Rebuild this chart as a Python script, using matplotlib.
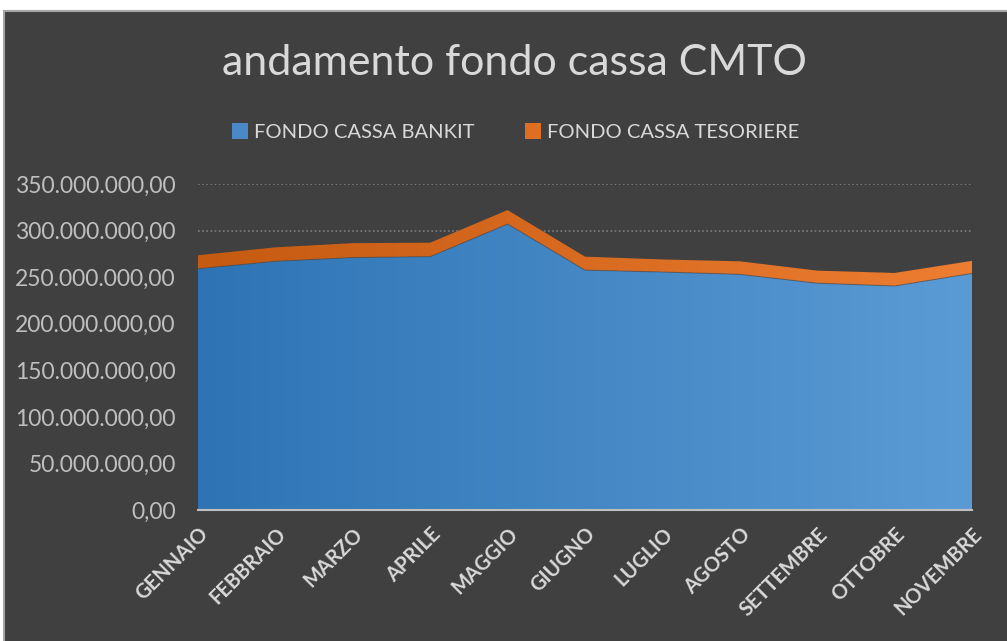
import numpy as np
import matplotlib as mpl
import matplotlib.pyplot as plt
from matplotlib.colors import LinearSegmentedColormap
from matplotlib.patches import Rectangle, Patch

# data (values in euro)
mesi = ['GENNAIO', 'FEBBRAIO', 'MARZO', 'APRILE', 'MAGGIO', 'GIUGNO',
        'LUGLIO', 'AGOSTO', 'SETTEMBRE', 'OTTOBRE', 'NOVEMBRE']
fondo_bankit = np.array([259.0, 267.0, 271.0, 272.0, 307.0, 257.5,
                         255.5, 253.0, 243.5, 240.5, 254.0]) * 1e6
fondo_tesoriere = np.array([14.5, 15.0, 15.5, 15.0, 15.0, 14.5,
                            13.5, 14.0, 13.5, 14.0, 13.5]) * 1e6
y_ticks = np.arange(0, 350e6 + 1, 50e6)

plt.rcParams['font.family'] = ['Lato', 'DejaVu Sans']

bg = '#404040'
txt = '#D9D9D9'

fig = plt.figure(figsize=(10.07, 6.41), dpi=100, facecolor='white')
# dark chart area with a thin grey frame, white margin top/left as in the screenshot
fig.patches.append(Rectangle((4 / 1007, -0.01), 1.0, 1 - 11 / 641 + 0.01,
                             transform=fig.transFigure, facecolor=bg,
                             edgecolor='#A6A6A6', linewidth=1.5, zorder=-10))

ax = fig.add_axes([198 / 1007, 1 - 510 / 641, (972 - 198) / 1007, (510 - 184) / 641])
ax.set_facecolor(bg)
ax.patch.set_alpha(0)

x = np.arange(len(mesi))
totale = fondo_bankit + fondo_tesoriere

# areas drawn first, then filled with a horizontal gradient clipped to their shape
poly_b = ax.fill_between(x, 0, fondo_bankit, facecolor='none', edgecolor='none')
poly_t = ax.fill_between(x, fondo_bankit, totale, facecolor='none', edgecolor='none')

grad = np.linspace(0, 1, 256).reshape(1, -1)
cmap_b = LinearSegmentedColormap.from_list('b', ['#2E74B5', '#5B9BD5'])
cmap_t = LinearSegmentedColormap.from_list('t', ['#C55A11', '#ED7D31'])
for poly, cm in [(poly_b, cmap_b), (poly_t, cmap_t)]:
    im = ax.imshow(grad, cmap=cm, aspect='auto', extent=(x[0], x[-1], 0, 350e6),
                   origin='lower', zorder=2)
    im.set_clip_path(poly.get_paths()[0], transform=ax.transData)

ax.plot(x, fondo_bankit, color='#3A4A5A', linewidth=0.8, alpha=0.5, zorder=3)

ax.set_xlim(x[0], x[-1])
ax.set_ylim(0, 350e6)

ax.set_yticks(y_ticks)
ax.set_yticklabels([f'{v:,.2f}'.replace(',', 'X').replace('.', ',').replace('X', '.')
                    for v in y_ticks])
ax.set_xticks(x)
ax.set_xticklabels(mesi, rotation=45, ha='right', rotation_mode='anchor',
                   fontweight='bold', fontsize=14.5, color=txt)
ax.tick_params(axis='y', length=0, labelsize=16.5, labelcolor='#BFBFBF', pad=16)
ax.tick_params(axis='x', length=0, pad=10)

ax.grid(axis='y', color='#808080', linestyle=(0, (1, 1.5)), linewidth=1.2, zorder=0)
ax.set_axisbelow(True)
for s in ['top', 'right', 'left']:
    ax.spines[s].set_visible(False)
ax.spines['bottom'].set_color('#BFBFBF')
ax.spines['bottom'].set_linewidth(1.5)
ax.spines['bottom'].set_zorder(4)

fig.text(514 / 1007, 1 - 63 / 641, 'andamento fondo cassa CMTO', ha='center',
         va='center', fontsize=31, color=txt)

handles = [Patch(facecolor='#4A89C8'), Patch(facecolor='#DE6E22')]
fig.legend(handles, ['FONDO CASSA BANKIT', 'FONDO CASSA TESORIERE'],
           loc='center', bbox_to_anchor=(516 / 1007, 1 - 132 / 641), ncol=2,
           frameon=False, fontsize=14.5, labelcolor=txt, handlelength=0.8,
           handleheight=0.8, handletextpad=0.3, columnspacing=2.5)

plt.savefig('out.png', dpi=100, facecolor='white')
